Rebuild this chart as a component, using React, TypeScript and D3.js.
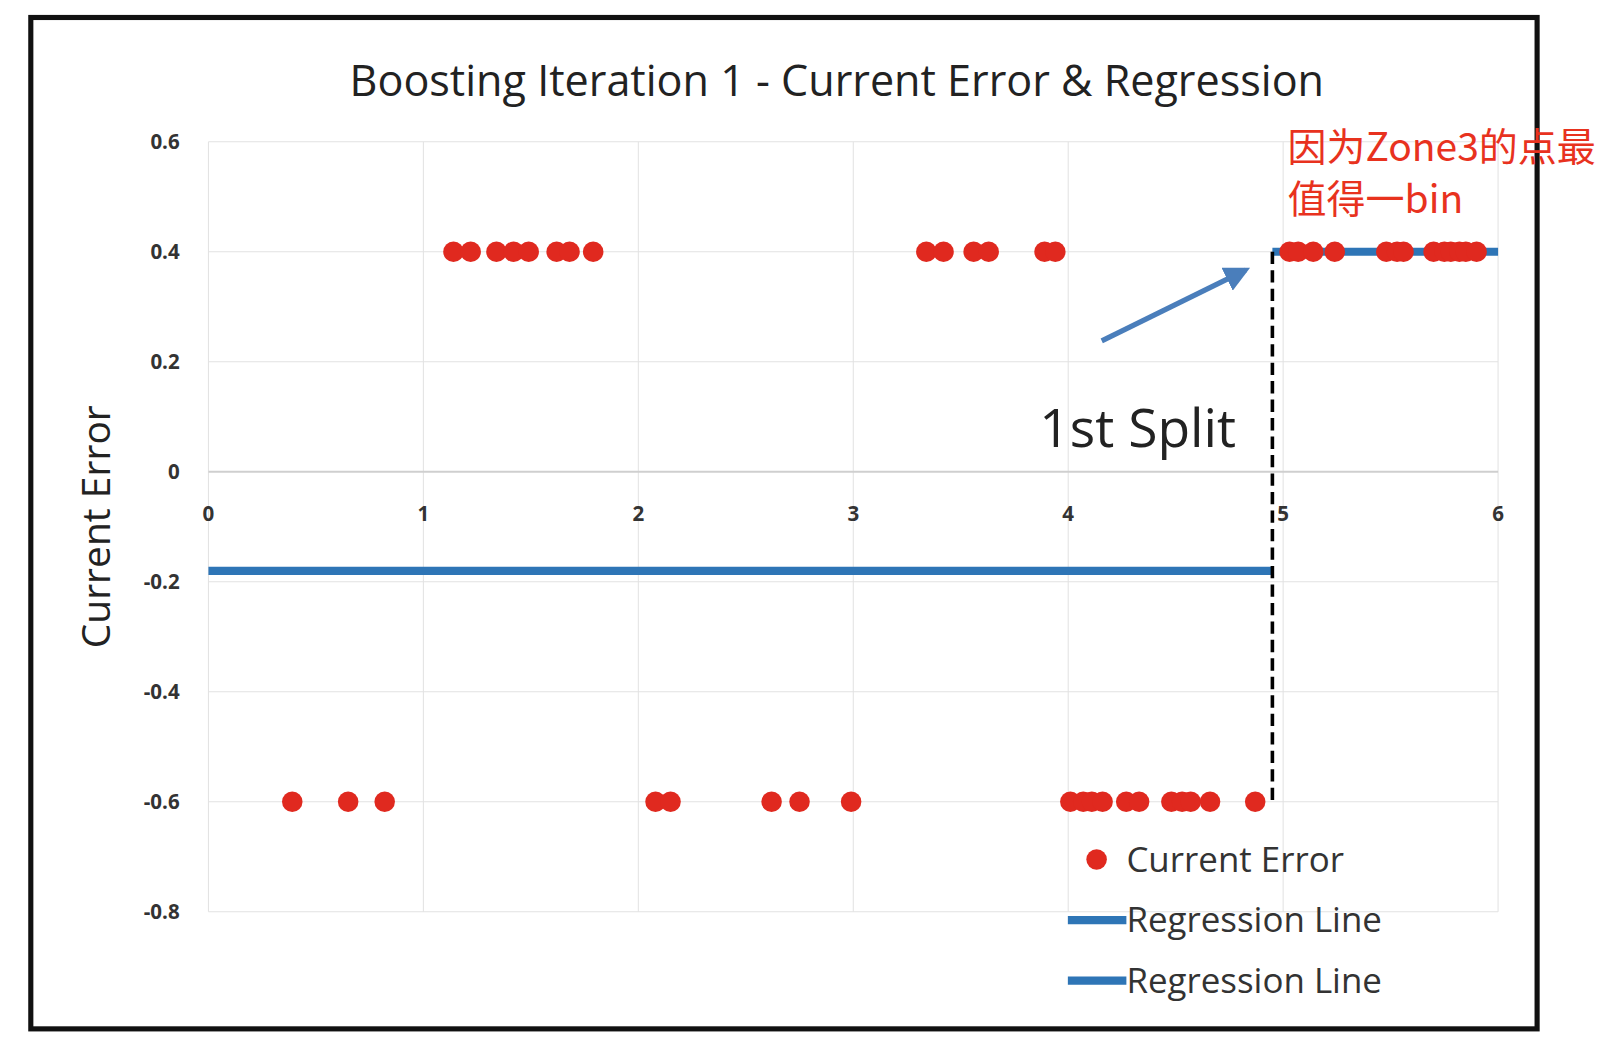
import React, { useEffect, useRef } from 'react';
import * as d3 from 'd3';

const topX = [1.14, 1.22, 1.34, 1.42, 1.49, 1.62, 1.68, 1.79, 3.34, 3.42, 3.56, 3.63, 3.89, 3.94,
  5.03, 5.07, 5.14, 5.24, 5.48, 5.53, 5.56, 5.7, 5.75, 5.78, 5.82, 5.85, 5.9];
const bottomX = [0.39, 0.65, 0.82, 2.08, 2.15, 2.62, 2.75, 2.99, 4.01, 4.07, 4.11, 4.16, 4.27, 4.33,
  4.48, 4.53, 4.57, 4.66, 4.87];
const splitX = 4.95;
const leftValue = -0.18;
const rightValue = 0.4;
const xTicks = [0, 1, 2, 3, 4, 5, 6];
const yTicks = [0.6, 0.4, 0.2, 0, -0.2, -0.4, -0.6, -0.8];

function App() {
  const ref = useRef<SVGSVGElement>(null);

  useEffect(() => {
    const svg = d3.select(ref.current);
    svg.selectAll('*').remove();
    const font = 'Open Sans, DejaVu Sans, sans-serif';

    const x = d3.scaleLinear().domain([0, 6]).range([203, 1459]);
    const y = d3.scaleLinear().domain([-0.8, 0.6]).range([888, 138]);

    svg.append('rect').attr('width', 1610).attr('height', 1052).attr('fill', '#fff');
    svg.append('rect').attr('x', 30).attr('y', 17).attr('width', 1467).attr('height', 985)
      .attr('fill', 'none').attr('stroke', '#111').attr('stroke-width', 5);

    // grid
    svg.selectAll('.vg').data(xTicks).enter().append('line')
      .attr('x1', d => x(d)).attr('x2', d => x(d)).attr('y1', y(0.6)).attr('y2', y(-0.8))
      .attr('stroke', '#e2e2e2');
    svg.selectAll('.hg').data(yTicks).enter().append('line')
      .attr('x1', x(0)).attr('x2', x(6)).attr('y1', d => y(d)).attr('y2', d => y(d))
      .attr('stroke', d => d === 0 ? '#cfcfcf' : '#e2e2e2').attr('stroke-width', d => d === 0 ? 2 : 1);

    // tick labels
    svg.selectAll('.yl').data(yTicks).enter().append('text')
      .attr('x', 175).attr('y', d => y(d) + 7).attr('text-anchor', 'end')
      .attr('font-family', font).attr('font-weight', 'bold').attr('font-size', 20).attr('fill', '#333')
      .text(d => d3.format('.1f')(d).replace('0.0', '0').replace('−', '-'));
    svg.selectAll('.xl').data(xTicks).enter().append('text')
      .attr('x', d => x(d)).attr('y', y(0) + 48).attr('text-anchor', 'middle')
      .attr('font-family', font).attr('font-weight', 'bold').attr('font-size', 20).attr('fill', '#333')
      .text(d => String(d));

    svg.append('text').attr('transform', `translate(107,${y(-0.1)}) rotate(-90)`)
      .attr('text-anchor', 'middle').attr('font-family', font).attr('font-size', 38).attr('fill', '#222')
      .text('Current Error');
    svg.append('text').attr('x', 815).attr('y', 93).attr('text-anchor', 'middle')
      .attr('font-family', font).attr('font-size', 42).attr('fill', '#222')
      .text('Boosting Iteration 1 - Current Error & Regression');

    // regression lines
    svg.append('line').attr('x1', x(0)).attr('x2', x(splitX)).attr('y1', y(leftValue)).attr('y2', y(leftValue))
      .attr('stroke', '#2e75b6').attr('stroke-width', 8);
    svg.append('line').attr('x1', x(splitX)).attr('x2', x(6)).attr('y1', y(rightValue)).attr('y2', y(rightValue))
      .attr('stroke', '#2e75b6').attr('stroke-width', 8);
    svg.append('line').attr('x1', x(splitX)).attr('x2', x(splitX)).attr('y1', y(rightValue)).attr('y2', y(-0.6))
      .attr('stroke', '#000').attr('stroke-width', 3.5).attr('stroke-dasharray', '12,6');

    // points
    const pts = [...topX.map(v => [v, 0.4]), ...bottomX.map(v => [v, -0.6])];
    svg.selectAll('.pt').data(pts).enter().append('circle')
      .attr('cx', d => x(d[0])).attr('cy', d => y(d[1])).attr('r', 10).attr('fill', '#e0291f');

    // annotation arrow
    const defs = svg.append('defs');
    defs.append('marker').attr('id', 'ah').attr('viewBox', '0 0 10 10').attr('refX', 8).attr('refY', 5)
      .attr('markerWidth', 5).attr('markerHeight', 5).attr('orient', 'auto')
      .append('path').attr('d', 'M0,0L10,5L0,10z').attr('fill', '#4a7ebb');
    svg.append('line').attr('x1', 1073).attr('y1', 332).attr('x2', 1213).attr('y2', 263)
      .attr('stroke', '#4a7ebb').attr('stroke-width', 5).attr('marker-end', 'url(#ah)');
    svg.append('text').attr('x', 1108).attr('y', 435).attr('text-anchor', 'middle')
      .attr('font-family', font).attr('font-size', 52).attr('fill', '#222').text('1st Split');

    // legend
    const lg = svg.append('g').attr('font-family', font).attr('font-size', 34).attr('fill', '#333');
    lg.append('circle').attr('cx', 1068).attr('cy', 837).attr('r', 10).attr('fill', '#e0291f');
    lg.append('text').attr('x', 1097).attr('y', 849).text('Current Error');
    [896, 955].forEach(cy => {
      lg.append('line').attr('x1', 1040).attr('x2', 1097).attr('y1', cy).attr('y2', cy)
        .attr('stroke', '#2e75b6').attr('stroke-width', 8);
      lg.append('text').attr('x', 1097).attr('y', cy + 12).text('Regression Line');
    });

    // red note
    const note = svg.append('g').attr('font-family', 'Noto Sans CJK SC, sans-serif').attr('font-size', 38).attr('fill', '#e8321e');
    note.append('text').attr('x', 1254).attr('y', 157).text('因为Zone3的点最');
    note.append('text').attr('x', 1254).attr('y', 207).text('值得一bin');
  }, []);

  return (
    <svg ref={ref} width={1610} height={1052} viewBox="0 0 1568 1024.5"
      style={{ display: 'block', margin: -8 }} />
  );
}

export default App;
